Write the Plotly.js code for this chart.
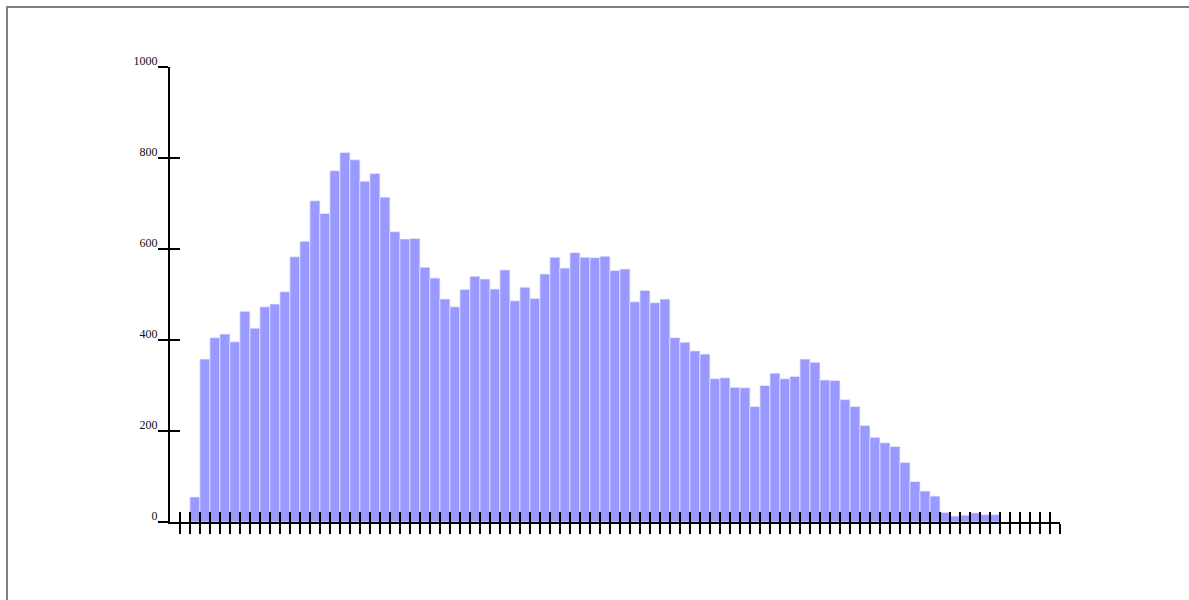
<!DOCTYPE html>
<html>
<head>
<meta charset="utf-8">
<script src="https://cdn.plot.ly/plotly-3.0.1.min.js"></script>
<style>
  html, body { margin: 0; padding: 0; background: #fff; overflow: hidden; }
  #chart { position: absolute; left: 0; top: 0; width: 1189px; height: 600px; }
  #frame { position: absolute; left: 6px; top: 6px; width: 2000px; height: 2000px;
           border-left: 2px solid #808080; border-top: 2px solid #808080; pointer-events: none; }
</style>
</head>
<body>
<div id="chart"></div>
<div id="frame"></div>
<script>
// Histogram bins (start index of each unit-width bin)
const binStarts = [1,2,3,4,5,6,7,8,9,10,11,12,13,14,15,16,17,18,19,20,
  21,22,23,24,25,26,27,28,29,30,31,32,33,34,35,36,37,38,39,40,
  41,42,43,44,45,46,47,48,49,50,51,52,53,54,55,56,57,58,59,60,
  61,62,63,64,65,66,67,68,69,70,71,72,73,74,75,76,77,78,79,80,81];

// Counts per bin
const counts = [55,358,405,413,396,463,426,473,479,506,
  583,617,706,678,772,812,796,749,766,714,
  638,622,623,560,536,490,473,511,540,534,
  512,554,486,516,491,545,582,558,592,582,
  581,584,553,556,484,509,482,490,405,395,
  376,369,315,317,296,295,254,300,327,315,
  320,358,351,312,311,269,254,212,186,174,
  166,131,89,68,57,21,13,15,20,16,16];

const yTickVals = [0, 200, 400, 600, 800, 1000];
const yTickText = ['0', '200', '400', '600', '800', '1000'];

const axisFont = { family: 'Liberation Serif, Times New Roman, serif', size: 12, color: '#111' };

const traces = [
  {
    type: 'bar',
    x: binStarts,
    y: counts,
    offset: 0,
    width: 1,
    marker: { color: '#9999ff', line: { color: 'rgba(235,235,255,0.7)', width: 1 } },
    hoverinfo: 'x+y',
    xaxis: 'x', yaxis: 'y'
  },
  {
    type: 'scatter',
    mode: 'markers',
    x: binStarts,
    y: counts,
    marker: { opacity: 0, size: 1 },
    hoverinfo: 'skip',
    showlegend: false,
    xaxis: 'x2', yaxis: 'y2'
  }
];

const xRange = [-0.99, 88.001];
const yRange = [0, 1000];

const layout = {
  width: 1189,
  height: 600,
  margin: { l: 170, r: 129, t: 67, b: 78, pad: 0 },
  paper_bgcolor: 'rgba(0,0,0,0)',
  plot_bgcolor: 'rgba(0,0,0,0)',
  showlegend: false,
  bargap: 0,
  xaxis: {
    range: xRange, tick0: 0, dtick: 1, showticklabels: false,
    ticks: 'outside', ticklen: 10, tickwidth: 2, tickcolor: '#000',
    showline: true, linewidth: 2, linecolor: '#000',
    showgrid: false, zeroline: false, fixedrange: true
  },
  xaxis2: {
    overlaying: 'x', anchor: 'y', range: xRange, tick0: 0, dtick: 1, showticklabels: false,
    ticks: 'inside', ticklen: 10, tickwidth: 2, tickcolor: '#000',
    showline: false, showgrid: false, zeroline: false, fixedrange: true
  },
  yaxis: {
    range: yRange, tickmode: 'array', tickvals: yTickVals, ticktext: yTickText,
    ticks: 'outside', ticklen: 10, tickwidth: 2, tickcolor: '#000',
    tickfont: axisFont, ticklabelshift: -6, ticklabelstandoff: -2,
    showline: true, linewidth: 2, linecolor: '#000',
    showgrid: false, zeroline: false, fixedrange: true
  },
  yaxis2: {
    overlaying: 'y', anchor: 'x', side: 'left', range: yRange,
    tickmode: 'array', tickvals: yTickVals, showticklabels: false,
    ticks: 'inside', ticklen: 10, tickwidth: 2, tickcolor: '#000',
    showline: false, showgrid: false, zeroline: false, fixedrange: true
  }
};

Plotly.newPlot('chart', traces, layout, { displayModeBar: false, staticPlot: true });
</script>
</body>
</html>
